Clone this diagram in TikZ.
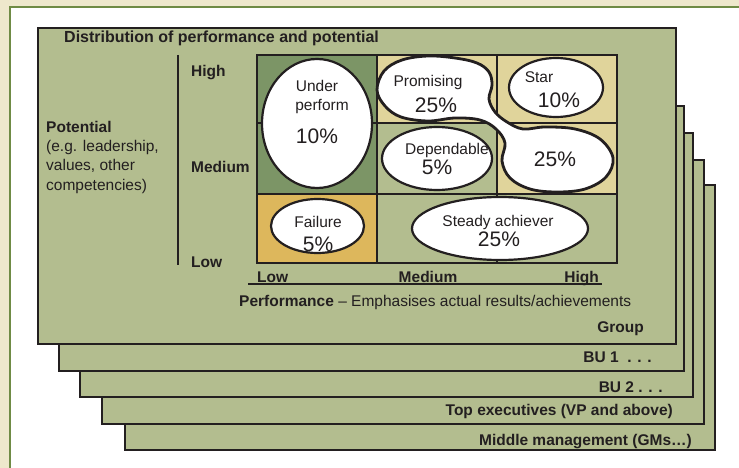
\documentclass[tikz,border=0pt]{standalone}
\usepackage{fontspec}
\setmainfont{Liberation Sans}
\usetikzlibrary{shapes.geometric}
\definecolor{cream}{HTML}{EEE8CC}
\definecolor{panelgreen}{HTML}{6F8B45}
\definecolor{layerfill}{HTML}{B3BD8F}
\definecolor{darkcell}{HTML}{7C9566}
\definecolor{tancell}{HTML}{E0D49B}
\definecolor{goldcell}{HTML}{DDB75C}
\definecolor{ink}{HTML}{231F20}
\newcommand\lblfont{\fontsize{15.5}{19}\selectfont}
\newcommand\pctfont{\fontsize{21}{24}\selectfont}
\tikzset{
  layer/.style={fill=layerfill, draw=ink, line width=1.6pt},
  grid/.style={draw=ink, line width=2.6pt},
  ell/.style={ellipse, draw=ink, fill=white, line width=2.2pt, inner sep=0pt},
  txt/.style={inner sep=0pt, font=\lblfont, text=ink},
  btxt/.style={inner sep=0pt, font=\lblfont\bfseries, text=ink},
  ptxt/.style={inner sep=0pt, font=\pctfont, text=ink, anchor=base},
}
\begin{document}
\begin{tikzpicture}[x=1pt,y=-1pt]
\useasboundingbox (0,0) rectangle (739,468);
\clip (0,0) rectangle (739,468);
% background and white panel
\fill[cream] (0,0) rectangle (739,468);
\draw[fill=white, draw=panelgreen, line width=2.2pt] (10,7) rectangle (760,490);
% stacked layers, back to front
\draw[layer] (125,185) rectangle (715,450);
\draw[layer] (102,160) rectangle (704,424);
\draw[layer] (80,133) rectangle (693,397);
\draw[layer] (59,106) rectangle (684,371);
\draw[layer] (38,28) rectangle (676,344);
% layer labels
\node[btxt, anchor=base east] (lmid) at (692,445) {Middle management (GMs…)};
\node[btxt, anchor=base east] (ltop) at (673,415) {Top executives (VP and above)};
\node[btxt, anchor=base east] (lbu2) at (663,392) {BU 2 . . .};
\node[btxt, anchor=base east] (lbu1) at (652,362) {BU 1 \ . . .};
\node[btxt, anchor=base east] (lgrp) at (644,332) {Group};
% title
\node[btxt, anchor=base west, font=\fontsize{16}{19}\selectfont\bfseries] (title) at (64,43) {Distribution of performance and potential};
% potential axis
\draw[ink, line width=1.8pt] (178,55) -- (178,265);
\node[btxt, anchor=base west] (phigh) at (191,77) {High};
\node[btxt, anchor=base west] (pmed) at (191,172) {Medium};
\node[btxt, anchor=base west] (plow) at (191,267) {Low};
\node[btxt, anchor=base west] (pot) at (46,133) {Potential};
\node[txt, anchor=base west] (pot1) at (46,152) {(e.g. leadership,};
\node[txt, anchor=base west] (pot2) at (46,171) {values, other};
\node[txt, anchor=base west] (pot3) at (46,190) {competencies)};
% performance axis
\draw[ink, line width=1.8pt] (248,284) -- (602,284);
\node[btxt, anchor=base west] (xlow) at (257,282) {Low};
\node[btxt, anchor=base] (xmed) at (428,282) {Medium};
\node[btxt, anchor=base east] (xhigh) at (599,282) {High};
\node[txt, anchor=base west] (perf) at (239,306) {\textbf{Performance} – Emphasises actual results/achievements};
% cells
\fill[darkcell] (257,55) rectangle (377,194);
\fill[tancell] (377,55) rectangle (497,123);
\fill[layerfill] (377,123) rectangle (497,194);
\fill[tancell] (497,55) rectangle (617,194);
\fill[goldcell] (257,194) rectangle (377,263);
\fill[layerfill] (377,194) rectangle (617,263);
\draw[grid] (257,55) rectangle (617,263);
\draw[grid] (377,55) -- (377,263);
\draw[grid] (497,55) -- (497,263);
\draw[grid] (257,123) -- (617,123);
\draw[grid] (257,194) -- (617,194);
% ellipses
\node[ell, minimum width=110pt, minimum height=129pt] (under) at (317,123.5) {};
\node[ell, minimum width=93pt, minimum height=54pt] (fail) at (317.5,226) {};
\node[ell, minimum width=176pt, minimum height=63pt] (steady) at (500,228.5) {};
\node[ell, minimum width=110pt, minimum height=63pt] (dep) at (437,158.5) {};
\node[ell, minimum width=94pt, minimum height=59pt] (star) at (556,87.5) {};
% promising blob
\draw[ink, fill=white, line width=2.8pt] plot[smooth cycle, tension=0.6] coordinates {
 (377,90) (384,71) (402,60) (428,56) (455,58) (477,63) (489,72) (492,85) (489,99)
 (495,112) (507,122) (523,129) (545,127) (575,129) (600,139) (613,158) (606,177)
 (585,189) (557,192) (530,189) (510,178) (502,161) (505,143) (496,129) (480,120)
 (455,118) (428,121) (401,117) (385,106)};
% ellipse texts
\node[txt, anchor=base] (t1) at (317,92) {Under};
\node[txt, anchor=base] (t2) at (322,111) {perform};
\node[ptxt] (t3) at (317,144) {10\%};
\node[txt, anchor=base] (t4) at (428,87) {Promising};
\node[ptxt] (t5) at (436,113) {25\%};
\node[txt, anchor=base] (t6) at (539,83) {Star};
\node[ptxt] (t7) at (559,108) {10\%};
\node[txt, anchor=base] (t8) at (447,155) {Dependable};
\node[ptxt] (t9) at (437,175) {5\%};
\node[ptxt] (t10) at (555,167) {25\%};
\node[txt, anchor=base] (t11) at (318,227) {Failure};
\node[ptxt] (t12) at (318,251) {5\%};
\node[txt, anchor=base] (t13) at (498,226) {Steady achiever};
\node[ptxt] (t14) at (499,246) {25\%};
\end{tikzpicture}
\end{document}
